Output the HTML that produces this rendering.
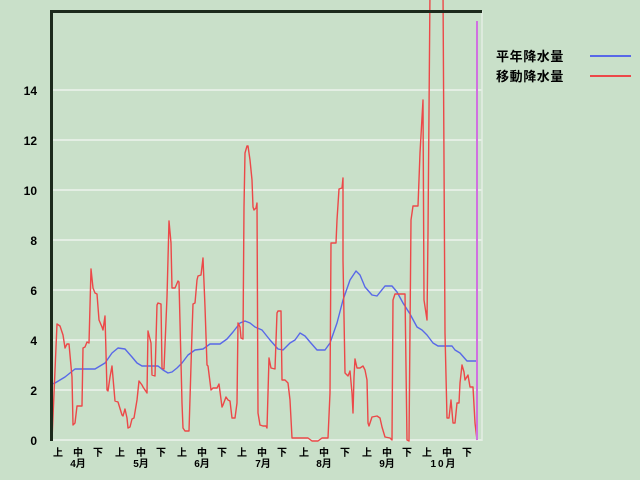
<!DOCTYPE html>
<html>
<head>
<meta charset="utf-8">
<style>
html,body{margin:0;padding:0;background:#c9e0c9;}
svg{display:block;}
.yl{font-family:"Liberation Sans","Noto Sans CJK JP",sans-serif;font-size:12px;font-weight:bold;fill:#000;}
.xl{font-family:"Liberation Sans","Noto Sans CJK JP",sans-serif;font-size:10px;font-weight:bold;fill:#000;}
.lg{font-family:"Liberation Sans","Noto Sans CJK JP",sans-serif;font-size:13px;font-weight:bold;fill:#000;letter-spacing:0.6px;}
</style>
</head>
<body>
<svg width="640" height="480" viewBox="0 0 640 480" xmlns="http://www.w3.org/2000/svg">
<rect x="0" y="0" width="640" height="480" fill="#c9e0c9"/>
<!-- gridlines -->
<g stroke="#e4eee4" stroke-width="2">
<line x1="51" y1="90" x2="482" y2="90"/>
<line x1="51" y1="140" x2="482" y2="140"/>
<line x1="51" y1="190" x2="482" y2="190"/>
<line x1="51" y1="240" x2="482" y2="240"/>
<line x1="51" y1="290" x2="482" y2="290"/>
<line x1="51" y1="340" x2="482" y2="340"/>
<line x1="51" y1="390" x2="482" y2="390"/>
<line x1="51" y1="440" x2="482" y2="440"/>
</g>
<line x1="482" y1="11" x2="482" y2="441" stroke="#e4eee4" stroke-width="1.5"/>
<!-- y labels -->
<g class="yl" text-anchor="end">
<text x="37" y="95">14</text>
<text x="37" y="145">12</text>
<text x="37" y="195">10</text>
<text x="37" y="245">8</text>
<text x="37" y="295">6</text>
<text x="37" y="345">4</text>
<text x="37" y="395">2</text>
<text x="37" y="445">0</text>
</g>
<!-- x labels -->
<g class="xl" text-anchor="middle">
<text x="58" y="456">上</text><text x="78" y="456">中</text><text x="98" y="456">下</text>
<text x="120" y="456">上</text><text x="141" y="456">中</text><text x="161" y="456">下</text>
<text x="182" y="456">上</text><text x="202" y="456">中</text><text x="222" y="456">下</text>
<text x="242" y="456">上</text><text x="262" y="456">中</text><text x="282" y="456">下</text>
<text x="304" y="456">上</text><text x="324" y="456">中</text><text x="345" y="456">下</text>
<text x="367" y="456">上</text><text x="387" y="456">中</text><text x="407" y="456">下</text>
<text x="427" y="456">上</text><text x="447" y="456">中</text><text x="467" y="456">下</text>
<text x="78" y="467">4月</text>
<text x="141" y="467">5月</text>
<text x="202" y="467">6月</text>
<text x="263" y="467">7月</text>
<text x="324" y="467">8月</text>
<text x="387" y="467">9月</text>
<text x="444" y="467" letter-spacing="2">10月</text>
</g>
<!-- blue series -->
<polyline fill="none" stroke="#5868e8" stroke-width="1.4" stroke-linejoin="round" points="51,440 52,384 55,383 60,380 65,377 70,373 75,369 95,369 100,366 105,363 112,353 118,348 125,349 132,357 137,363 142,366 158,366 163,370 168,373 172,372 177,368 182,363 188,355 195,350 203,349 210,344 220,344 227,339 233,332 240,323 245,321 250,323 255,327 262,330 270,340 278,349 283,350 290,343 295,340 300,333 305,336 310,342 317,350 325,350 330,343 337,323 343,300 350,280 356,271 360,275 365,287 372,295 377,296 385,286 392,286 397,292 403,303 410,314 417,327 422,330 427,335 433,343 438,346 452,346 455,350 460,353 467,361 478,361"/>
<!-- red series -->
<polyline fill="none" stroke="#ec4848" stroke-width="1.4" stroke-linejoin="round" points="51,440 52,440 57,324 60,326 63,335 65,348 67,344 69,344 72,377 73,425 75,423 77,406 82,406 83,348 85,347 87,342 89,343 91,269 93,288 95,293 97,294 99,320 102,327 103,330 105,316 107,390 108,391 110,377 112,366 115,401 118,402 122,415 123,416 125,409 127,418 128,428 130,427 132,419 134,418 137,400 139,381 142,385 143,387 147,393 148,331 151,343 152,375 155,376 157,305 158,303 161,304 162,368 164,369 167,297 169,221 171,243 172,288 175,288 178,281 179,282 182,403 183,428 185,431 189,431 192,333 193,304 195,303 197,280 198,276 201,275 203,258 205,307 207,365 208,366 211,390 213,388 217,388 219,384 222,407 223,405 226,397 228,400 230,401 232,418 235,418 237,403 238,323 240,327 241,338 243,339 244,207 245,153 247,146 248,146 250,160 252,180 253,207 254,210 256,208 257,203 258,413 260,425 263,426 266,426 267,428 269,358 271,368 275,369 277,313 278,311 281,311 282,380 285,380 288,383 290,400 292,438 308,438 312,441 318,441 322,438 328,438 330,393 331,243 336,243 337,220 339,189 342,188 343,178 343,260 345,373 348,376 350,371 352,393 353,413 354,377 355,359 357,368 360,368 363,366 365,370 367,380 368,423 369,426 372,417 377,416 380,418 382,427 385,437 390,438 392,440 393,300 395,294 405,294 407,440 409,441 411,220 413,206 418,206 420,153 423,100 424,300 427,320 428,233 430,-10 443,-10 445,333 447,418 449,418 451,400 453,423 455,423 457,403 459,403 460,383 462,365 464,372 465,380 468,375 470,387 473,387 475,423 477,440"/>
<!-- magenta marker -->
<line x1="477" y1="21" x2="477" y2="440" stroke="#d070e0" stroke-width="2"/>
<!-- borders -->
<rect x="50" y="10" width="3" height="431" fill="#1c2a1c"/>
<rect x="50" y="10" width="432" height="3" fill="#1c2a1c"/>
<!-- legend -->
<text class="lg" x="496" y="61">平年降水量</text>
<text class="lg" x="496" y="81">移動降水量</text>
<line x1="590" y1="56" x2="631" y2="56" stroke="#5868e8" stroke-width="2"/>
<line x1="590" y1="76" x2="631" y2="76" stroke="#ec4848" stroke-width="2"/>
</svg>
</body>
</html>
